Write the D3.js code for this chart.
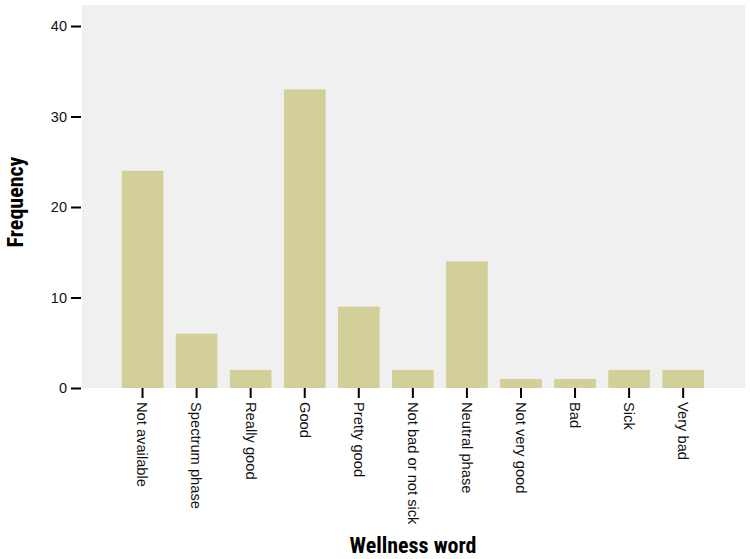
<!DOCTYPE html>
<html>
<head>
<meta charset="utf-8">
<script src="https://cdn.jsdelivr.net/npm/d3@7"></script>
<style>
  body { margin: 0; background: #fff; }
  text { font-family: "Liberation Sans", Arial, Helvetica, sans-serif; }
</style>
</head>
<body>
<svg id="chart" width="750" height="559"></svg>
<script>
const categories = ["Not available", "Spectrum phase", "Really good", "Good", "Pretty good",
  "Not bad or not sick", "Neutral phase", "Not very good", "Bad", "Sick", "Very bad"];
const frequency = [24, 6, 2, 33, 9, 2, 14, 1, 1, 2, 2];
const yTicks = [0, 10, 20, 30, 40];
const xTitle = "Wellness word";
const yTitle = "Frequency";

const svg = d3.select("#chart");
const panel = { left: 82, right: 745, top: 5, bottom: 388 };

const x = d3.scaleBand().domain(categories).range([115.5, 710.2])
  .paddingInner(0.23).paddingOuter(0.115);
const y = d3.scaleLinear().domain([0, 40]).range([388, 26]);

svg.append("rect")
  .attr("x", panel.left).attr("y", panel.top)
  .attr("width", panel.right - panel.left).attr("height", panel.bottom - panel.top)
  .attr("fill", "#f0f0f0");

svg.selectAll("rect.bar").data(frequency).join("rect")
  .attr("class", "bar")
  .attr("x", (d, i) => x(categories[i]))
  .attr("width", x.bandwidth())
  .attr("y", d => y(d))
  .attr("height", d => y(0) - y(d))
  .attr("fill", "#d3cf98");

// Y axis
const yAxis = d3.axisLeft(y).tickValues(yTicks).tickSize(10).tickPadding(4);
const gy = svg.append("g").attr("transform", `translate(${panel.left - 1},0)`).call(yAxis);
gy.select(".domain").remove();
gy.selectAll(".tick line").attr("stroke", "#000").attr("stroke-width", 2);
gy.selectAll(".tick text").attr("font-size", 14.5).attr("fill", "#111")
  .style("font-family", "'Liberation Sans', Arial, sans-serif");

// X axis
const xAxis = d3.axisBottom(x).tickSize(10).tickPadding(4);
const gx = svg.append("g").attr("transform", `translate(0,${panel.bottom})`).call(xAxis);
gx.select(".domain").remove();
gx.selectAll(".tick line").attr("stroke", "#000").attr("stroke-width", 2);
gx.selectAll(".tick text")
  .attr("font-size", 14.7).attr("fill", "#111")
  .style("font-family", "'Liberation Sans', Arial, sans-serif")
  .attr("text-anchor", "start")
  .attr("transform", "rotate(90)")
  .attr("x", 14).attr("y", 0).attr("dy", "0.35em");

// Titles
svg.append("text")
  .attr("x", 413).attr("y", 553)
  .attr("text-anchor", "middle")
  .attr("font-size", 22).attr("font-weight", "bold")
  .style("font-family", "'Liberation Sans Narrow', 'Roboto Condensed', Arial, sans-serif")
  .style("font-stretch", "condensed")
  .attr("fill", "#000")
  .text(xTitle);

svg.append("text")
  .attr("transform", `translate(23,202) rotate(-90)`)
  .attr("text-anchor", "middle")
  .attr("font-size", 22).attr("font-weight", "bold")
  .style("font-family", "'Liberation Sans Narrow', 'Roboto Condensed', Arial, sans-serif")
  .style("font-stretch", "condensed")
  .attr("fill", "#000")
  .text(yTitle);
</script>
</body>
</html>
